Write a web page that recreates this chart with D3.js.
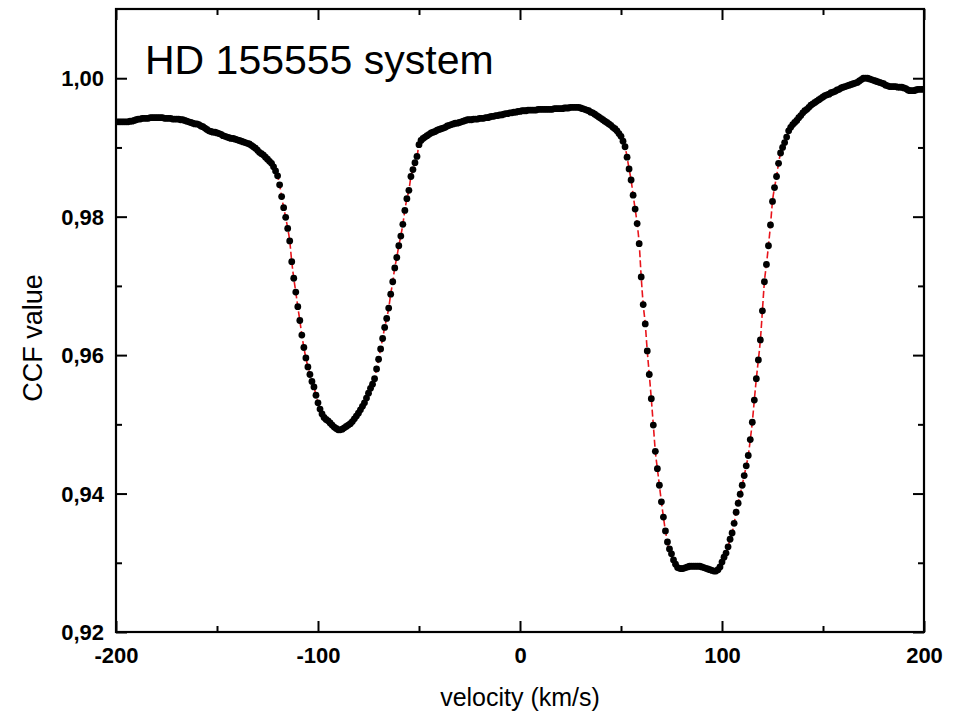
<!DOCTYPE html>
<html>
<head>
<meta charset="utf-8">
<script src="https://cdn.jsdelivr.net/npm/d3@7"></script>
<style>
  html, body { margin: 0; padding: 0; background: #fff; }
  svg { display: block; }
</style>
</head>
<body>
<svg id="chart" width="962" height="716"></svg>
<script>
// ---- data ----
const chartTitle = "HD 155555 system";
const xTitle = "velocity (km/s)";
const yTitle = "CCF value";
const xDomain = [-200, 200];
const yDomain = [0.92, 1.01];
const xMajorTicks = [-200, -100, 0, 100, 200];
const xMinorTicks = [-150, -50, 50, 150];
const yMajorTicks = [0.92, 0.94, 0.96, 0.98, 1.00];
const yMinorTicks = [0.93, 0.95, 0.97, 0.99];

// sampling grid, 1 km/s
const velocity = d3.range(-200, 201, 1);
const ccf = [
  0.9937,0.9937,0.9937,0.9937,0.9937,0.9937,0.9937,0.9938,0.9938,0.9939,
  0.9940,0.9941,0.9941,0.9942,0.9942,0.9942,0.9942,0.9943,0.9943,0.9943,
  0.9943,0.9943,0.9943,0.9943,0.9942,0.9942,0.9942,0.9942,0.9941,0.9941,
  0.9941,0.9941,0.9940,0.9940,0.9939,0.9938,0.9937,0.9936,0.9935,0.9934,
  0.9934,0.9933,0.9931,0.9930,0.9928,0.9926,0.9924,0.9923,0.9922,0.9922,
  0.9921,0.9920,0.9919,0.9917,0.9916,0.9915,0.9914,0.9913,0.9913,0.9912,
  0.9911,0.9910,0.9909,0.9908,0.9907,0.9906,0.9905,0.9903,0.9901,0.9899,
  0.9896,0.9893,0.9891,0.9889,0.9886,0.9883,0.9880,0.9877,0.9872,0.9866,
  0.9859,0.9846,0.9829,0.9813,0.9799,0.9783,0.9765,0.9735,0.9711,0.9691,
  0.9670,0.9650,0.9629,0.9611,0.9596,0.9583,0.9572,0.9562,0.9554,0.9542,
  0.9531,0.9522,0.9515,0.9510,0.9507,0.9505,0.9502,0.9499,0.9496,0.9494,
  0.9492,0.9492,0.9493,0.9495,0.9497,0.9499,0.9501,0.9504,0.9508,0.9512,
  0.9516,0.9521,0.9526,0.9531,0.9538,0.9545,0.9552,0.9558,0.9566,0.9580,
  0.9594,0.9609,0.9624,0.9640,0.9653,0.9668,0.9688,0.9706,0.9726,0.9741,
  0.9758,0.9772,0.9789,0.9809,0.9826,0.9838,0.9858,0.9868,0.9878,0.9887,
  0.9904,0.9910,0.9913,0.9915,0.9917,0.9919,0.9921,0.9922,0.9923,0.9925,
  0.9926,0.9927,0.9928,0.9929,0.9931,0.9932,0.9933,0.9934,0.9935,0.9935,
  0.9936,0.9937,0.9938,0.9939,0.9940,0.9940,0.9940,0.9941,0.9941,0.9941,
  0.9942,0.9942,0.9942,0.9943,0.9943,0.9944,0.9945,0.9945,0.9946,0.9946,
  0.9947,0.9947,0.9948,0.9949,0.9949,0.9950,0.9950,0.9951,0.9951,0.9952,
  0.9952,0.9953,0.9953,0.9953,0.9954,0.9954,0.9954,0.9954,0.9954,0.9955,
  0.9955,0.9955,0.9955,0.9955,0.9955,0.9955,0.9955,0.9956,0.9956,0.9956,
  0.9956,0.9956,0.9957,0.9957,0.9957,0.9958,0.9958,0.9958,0.9958,0.9958,
  0.9957,0.9956,0.9955,0.9954,0.9953,0.9951,0.9950,0.9948,0.9946,0.9944,
  0.9942,0.9940,0.9938,0.9936,0.9934,0.9932,0.9929,0.9927,0.9924,0.9920,
  0.9916,0.9909,0.9901,0.9886,0.9869,0.9853,0.9831,0.9811,0.9790,0.9761,
  0.9713,0.9673,0.9645,0.9606,0.9572,0.9537,0.9499,0.9461,0.9436,0.9412,
  0.9388,0.9366,0.9346,0.9330,0.9320,0.9313,0.9304,0.9298,0.9293,0.9292,
  0.92915,0.9292,0.9293,0.9294,0.9295,0.9295,0.9295,0.9295,0.9295,0.9295,
  0.9294,0.9293,0.9292,0.9291,0.9290,0.9289,0.9288,0.9288,0.9290,0.9294,
  0.9301,0.9308,0.9314,0.9323,0.9334,0.9343,0.9357,0.9373,0.9386,0.9399,
  0.9412,0.9426,0.9440,0.9455,0.9478,0.9503,0.9535,0.9566,0.9593,0.9622,
  0.9664,0.9706,0.9731,0.9758,0.9788,0.9822,0.9842,0.9858,0.9877,0.9892,
  0.9900,0.9907,0.9915,0.9924,0.9929,0.9933,0.9936,0.9939,0.9943,0.9946,
  0.9950,0.9953,0.9955,0.9958,0.9961,0.9963,0.9965,0.9967,0.9969,0.9971,
  0.9973,0.9975,0.9976,0.9977,0.9979,0.9980,0.9981,0.9983,0.9984,0.9986,
  0.9987,0.9988,0.9989,0.9990,0.9991,0.9992,0.9993,0.9994,0.9996,0.9998,
  1.0000,1.0000,1.0000,0.9999,0.9998,0.9997,0.9996,0.9995,0.9994,0.9993,
  0.9992,0.9990,0.9989,0.9988,0.9988,0.9988,0.9988,0.9987,0.9987,0.9987,
  0.9986,0.9985,0.9983,0.9982,0.9982,0.9982,0.9983,0.9984,0.9984,0.9984,
  0.9984
];

// ---- layout ----
const plot = { left: 116, top: 9, right: 924, bottom: 632 };
const svg = d3.select("#chart");
const font = "'Liberation Sans', Arial, Helvetica, sans-serif";

const x = d3.scaleLinear().domain(xDomain).range([plot.left, plot.right]);
const y = d3.scaleLinear().domain(yDomain).range([plot.bottom, plot.top]);

const locale = d3.formatLocale({ decimal: ",", thousands: ".", grouping: [3], currency: ["", ""], minus: "-" });
const fmtY = locale.format(".2f");
const fmtX = locale.format("d");

const data = velocity.map((v, i) => ({ v, c: ccf[i] }));

svg.append("defs").append("clipPath").attr("id", "plotclip")
  .append("rect")
  .attr("x", plot.left).attr("y", plot.top)
  .attr("width", plot.right - plot.left).attr("height", plot.bottom - plot.top);

const layer = svg.append("g").attr("clip-path", "url(#plotclip)");

// fit line (red dashed) under the points
const line = d3.line().x(d => x(d.v)).y(d => y(d.c)).curve(d3.curveMonotoneX);
layer.append("path")
  .datum(data)
  .attr("d", line)
  .attr("fill", "none")
  .attr("stroke", "#e8141b")
  .attr("stroke-width", 1.6)
  .attr("stroke-dasharray", "7,3");

// points
layer.append("g")
  .selectAll("circle")
  .data(data)
  .join("circle")
  .attr("cx", d => x(d.v))
  .attr("cy", d => y(d.c))
  .attr("r", 3.4)
  .attr("fill", "#000");

// axes (ticks inward)
function styleAxis(g) {
  g.select(".domain").remove();
  g.selectAll(".tick line").attr("stroke", "#000").attr("stroke-width", 2);
}
const major = 11, minor = 6;

// bottom
svg.append("g").attr("transform", `translate(0,${plot.bottom})`)
  .call(d3.axisBottom(x).tickValues(xMajorTicks).tickSize(-major).tickPadding(0).tickFormat(fmtX))
  .call(styleAxis)
  .call(g => g.selectAll(".tick text")
    .attr("y", 31).attr("dy", 0)
    .attr("font-family", font).attr("font-size", 22).attr("font-weight", "bold").attr("fill", "#000"));
svg.append("g").attr("transform", `translate(0,${plot.bottom})`)
  .call(d3.axisBottom(x).tickValues(xMinorTicks).tickSize(-minor).tickFormat(""))
  .call(styleAxis);
// top
svg.append("g").attr("transform", `translate(0,${plot.top})`)
  .call(d3.axisTop(x).tickValues(xMajorTicks).tickSize(-major).tickFormat(""))
  .call(styleAxis);
svg.append("g").attr("transform", `translate(0,${plot.top})`)
  .call(d3.axisTop(x).tickValues(xMinorTicks).tickSize(-minor).tickFormat(""))
  .call(styleAxis);
// left
svg.append("g").attr("transform", `translate(${plot.left},0)`)
  .call(d3.axisLeft(y).tickValues(yMajorTicks).tickSize(-major).tickPadding(0).tickFormat(fmtY))
  .call(styleAxis)
  .call(g => g.selectAll(".tick text")
    .attr("x", -12).attr("dy", "0.35em")
    .attr("font-family", font).attr("font-size", 22).attr("font-weight", "bold").attr("fill", "#000"));
svg.append("g").attr("transform", `translate(${plot.left},0)`)
  .call(d3.axisLeft(y).tickValues(yMinorTicks).tickSize(-minor).tickFormat(""))
  .call(styleAxis);
// right
svg.append("g").attr("transform", `translate(${plot.right},0)`)
  .call(d3.axisRight(y).tickValues(yMajorTicks).tickSize(-major).tickFormat(""))
  .call(styleAxis);
svg.append("g").attr("transform", `translate(${plot.right},0)`)
  .call(d3.axisRight(y).tickValues(yMinorTicks).tickSize(-minor).tickFormat(""))
  .call(styleAxis);

// frame
svg.append("rect")
  .attr("x", plot.left).attr("y", plot.top)
  .attr("width", plot.right - plot.left).attr("height", plot.bottom - plot.top)
  .attr("fill", "none").attr("stroke", "#000").attr("stroke-width", 2.2);

// titles
svg.append("text")
  .attr("x", 145).attr("y", 74)
  .attr("font-family", font).attr("font-size", 41).attr("fill", "#000")
  .text(chartTitle);

svg.append("text")
  .attr("x", (plot.left + plot.right) / 2).attr("y", 706)
  .attr("text-anchor", "middle")
  .attr("font-family", font).attr("font-size", 25).attr("fill", "#000")
  .text(xTitle);

svg.append("text")
  .attr("transform", `translate(42,338) rotate(-90)`)
  .attr("text-anchor", "middle")
  .attr("font-family", font).attr("font-size", 27).attr("fill", "#000")
  .text(yTitle);
</script>
</body>
</html>
